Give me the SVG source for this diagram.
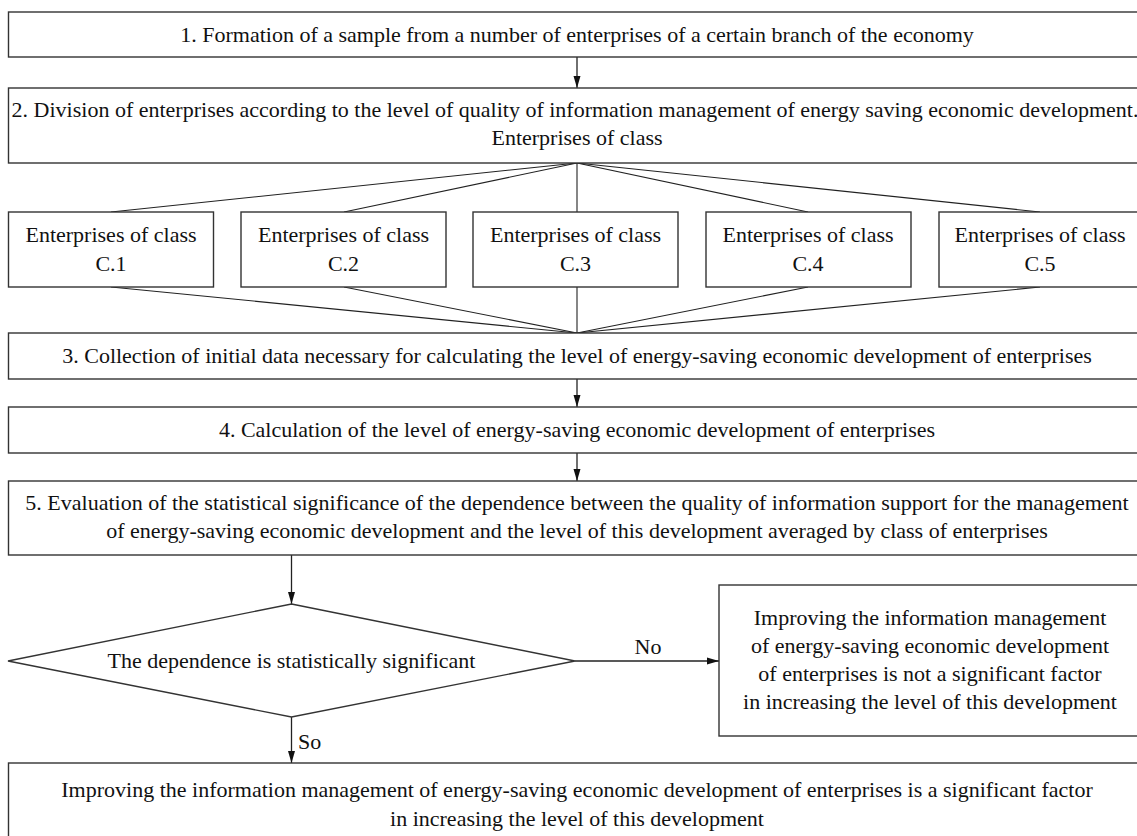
<svg xmlns="http://www.w3.org/2000/svg" width="1137" height="836" viewBox="0 0 1137 836">
<style>
.box{fill:#fff;stroke:#333;stroke-width:1.4}
.t{font-family:"Liberation Serif","Times New Roman",serif;font-size:22px;fill:#111;text-anchor:middle}
.l{font-family:"Liberation Serif","Times New Roman",serif;font-size:22px;fill:#111}
.c{fill:none;stroke:#222;stroke-width:1.3}
.f{fill:none;stroke:#222;stroke-width:1.1}
</style>
<defs>
<marker id="ah" markerUnits="userSpaceOnUse" markerWidth="12" markerHeight="8" viewBox="0 0 12 8" refX="12" refY="4" orient="auto">
<path d="M0,0.5 L12,4 L0,7.5 z" fill="#111"/>
</marker>
</defs>
<rect width="1137" height="836" fill="#fff"/>

<g id="connectors">
<line class="c" x1="577" y1="57" x2="577" y2="88" marker-end="url(#ah)"/>
<line class="f" x1="577" y1="163" x2="111" y2="212"/>
<line class="f" x1="577" y1="163" x2="344" y2="212"/>
<line class="f" x1="577" y1="163" x2="577" y2="212"/>
<line class="f" x1="577" y1="163" x2="808" y2="212"/>
<line class="f" x1="577" y1="163" x2="1040" y2="212"/>
<line class="f" x1="111" y1="287" x2="577" y2="333"/>
<line class="f" x1="344" y1="287" x2="577" y2="333"/>
<line class="f" x1="577" y1="287" x2="577" y2="333"/>
<line class="f" x1="808" y1="287" x2="577" y2="333"/>
<line class="f" x1="1040" y1="287" x2="577" y2="333"/>
<line class="c" x1="577" y1="379" x2="577" y2="407" marker-end="url(#ah)"/>
<line class="c" x1="577" y1="453" x2="577" y2="481" marker-end="url(#ah)"/>
<line class="c" x1="291.5" y1="555" x2="291.5" y2="604" marker-end="url(#ah)"/>
<line class="c" x1="575" y1="661" x2="719" y2="661" marker-end="url(#ah)"/>
<line class="c" x1="291.5" y1="717" x2="291.5" y2="763" marker-end="url(#ah)"/>
<text class="t" x="648" y="654">No</text>
<text class="l" x="298" y="749">So</text>
</g>

<g id="n1">
<rect class="box" x="8.5" y="12" width="1137" height="45"/>
<text class="t" x="577" y="42">1. Formation of a sample from a number of enterprises of a certain branch of the economy</text>
</g>
<g id="n2">
<rect class="box" x="8.5" y="88" width="1137" height="75"/>
<text class="t" x="575" y="117">2. Division of enterprises according to the level of quality of information management of energy saving economic development.</text>
<text class="t" x="577" y="145">Enterprises of class</text>
</g>
<g id="c1">
<rect class="box" x="8.5" y="212" width="205" height="75"/>
<text class="t" x="111" y="242">Enterprises of class</text>
<text class="t" x="111" y="271">C.1</text>
</g>
<g id="c2">
<rect class="box" x="241" y="212" width="205" height="75"/>
<text class="t" x="343.5" y="242">Enterprises of class</text>
<text class="t" x="343.5" y="271">C.2</text>
</g>
<g id="c3">
<rect class="box" x="473" y="212" width="205" height="75"/>
<text class="t" x="575.5" y="242">Enterprises of class</text>
<text class="t" x="575.5" y="271">C.3</text>
</g>
<g id="c4">
<rect class="box" x="706" y="212" width="205" height="75"/>
<text class="t" x="808" y="242">Enterprises of class</text>
<text class="t" x="808" y="271">C.4</text>
</g>
<g id="c5">
<rect class="box" x="939" y="212" width="205" height="75"/>
<text class="t" x="1040" y="242">Enterprises of class</text>
<text class="t" x="1040" y="271">C.5</text>
</g>
<g id="n3">
<rect class="box" x="8.5" y="333" width="1137" height="46"/>
<text class="t" x="577" y="363">3. Collection of initial data necessary for calculating the level of energy-saving economic development of enterprises</text>
</g>
<g id="n4">
<rect class="box" x="8.5" y="407" width="1137" height="46"/>
<text class="t" x="577" y="437">4. Calculation of the level of energy-saving economic development of enterprises</text>
</g>
<g id="n5">
<rect class="box" x="8.5" y="481" width="1137" height="74"/>
<text class="t" x="577" y="510">5. Evaluation of the statistical significance of the dependence between the quality of information support for the management</text>
<text class="t" x="577" y="538">of energy-saving economic development and the level of this development averaged by class of enterprises</text>
</g>
<g id="d1">
<polygon class="box" points="291.5,604 575,661 291.5,717 8,661"/>
<text class="t" x="291.5" y="668">The dependence is statistically significant</text>
</g>
<g id="n6">
<rect class="box" x="719" y="585" width="426" height="151"/>
<text class="t" x="930" y="625">Improving the information management</text>
<text class="t" x="930" y="653">of energy-saving economic development</text>
<text class="t" x="930" y="681">of enterprises is not a significant factor</text>
<text class="t" x="930" y="709">in increasing the level of this development</text>
</g>
<g id="n7">
<rect class="box" x="8.5" y="763" width="1137" height="90"/>
<text class="t" x="577" y="797">Improving the information management of energy-saving economic development of enterprises is a significant factor</text>
<text class="t" x="577" y="826">in increasing the level of this development</text>
</g>
</svg>
